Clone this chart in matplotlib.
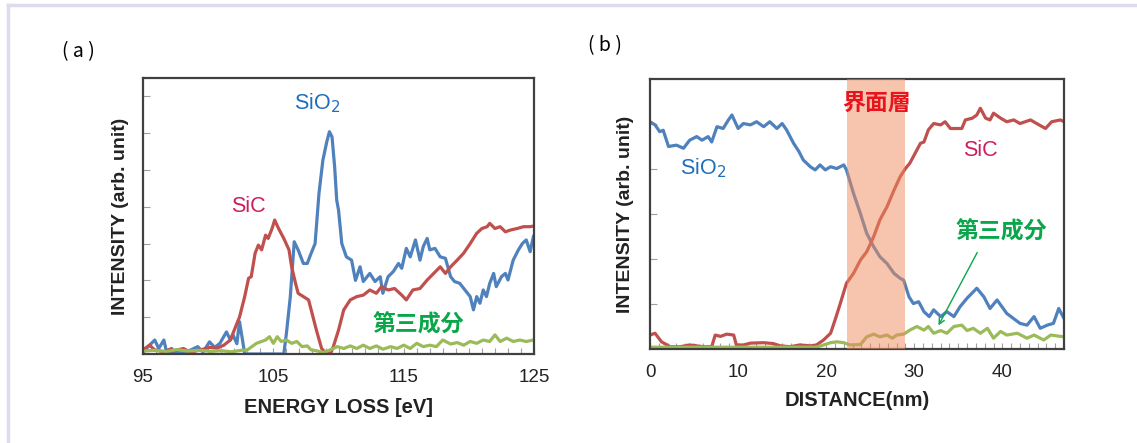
# EELS spectra (a) and line profile across SiO2/SiC interface (b)

import numpy as np
import matplotlib
matplotlib.use("Agg")
import matplotlib.pyplot as plt
from matplotlib.lines import Line2D

plt.rcParams['font.family'] = ['Liberation Sans', 'Noto Sans CJK JP', 'DejaVu Sans']

# ---- panel (a): energy loss spectra ----
a_sic_x = [95.0, 95.15, 95.5, 95.9, 96.6, 97.2, 97.3, 98.1, 98.6, 99.4, 100.1, 100.7, 101.2, 101.7,
           102.2, 102.4, 102.8, 103.1, 103.3, 103.6, 103.85, 104.1, 104.4, 104.6, 104.9, 105.1,
           105.4, 105.8, 106.2, 106.4, 106.7, 106.9, 107.3, 107.7, 107.9, 108.3, 108.7, 109.1,
           109.4, 109.6, 110.0, 110.4, 110.9, 111.4, 111.9, 112.4, 112.9, 113.3, 113.8, 114.3,
           114.85, 115.2, 115.7, 116.25, 116.8, 117.3, 117.8, 118.2, 118.6, 119.1, 119.6, 120.1,
           120.6, 121.0, 121.4, 121.6, 122.0, 122.4, 122.8, 123.2, 123.7, 124.2, 124.7, 125.0]
a_sic_y = [0.05, 0.15, 0.24, 0.11, 0.06, 0.15, 0.08, 0.15, 0.05, 0.11, 0.18, 0.16, 0.24, 0.38,
           0.83, 1.0, 1.56, 2.06, 2.1, 2.74, 2.96, 2.83, 3.23, 3.14, 3.41, 3.64,
           3.41, 3.14, 2.83, 2.37, 1.92, 1.65, 1.56, 1.47, 1.2, 0.65, 0.15, 0.0,
           0.02, 0.2, 0.65, 1.2, 1.47, 1.56, 1.6, 1.74, 1.65, 1.83, 1.74, 1.78,
           1.6, 1.47, 1.74, 1.78, 2.01, 2.19, 2.37, 2.19, 2.37, 2.55, 2.74, 3.0,
           3.28, 3.41, 3.46, 3.55, 3.41, 3.46, 3.32, 3.37, 3.41, 3.46, 3.46, 3.48]

a_sio2_x = [95.0, 95.15, 95.5, 95.9, 96.2, 96.6, 96.8, 97.5, 98.3, 99.2, 99.6, 100.1, 100.5, 100.9,
            101.4, 101.7, 101.9, 102.2, 102.4, 102.6, 102.8, 103.2, 104.5, 105.8, 106.0, 106.3,
            106.6, 106.9, 107.3, 107.6, 107.9, 108.2, 108.5, 108.8, 109.1, 109.3, 109.5, 109.7,
            109.86, 110.0, 110.25, 110.6, 111.0, 111.3, 111.65, 111.9, 112.4, 112.8, 113.2, 113.4,
            113.8, 114.2, 114.6, 114.85, 115.2, 115.5, 115.9, 116.25, 116.5, 116.8, 117.0, 117.4,
            117.8, 118.2, 118.6, 118.9, 119.3, 119.7, 120.1, 120.35, 120.6, 120.85, 121.1, 121.35,
            121.6, 121.9, 122.1, 122.5, 122.8, 123.0, 123.4, 123.8, 124.1, 124.4, 124.7, 124.95]
a_sio2_y = [0.05, 0.11, 0.24, 0.38, 0.15, 0.38, 0.06, 0.04, 0.05, 0.2, 0.05, 0.33, 0.18, 0.29,
            0.6, 0.38, 0.52, 0.28, 0.88, 0.45, 0.0, 0.0, 0.0, 0.0, 0.56, 1.56,
            3.05, 2.83, 2.46, 2.46, 2.74, 3.0, 4.37, 5.27, 5.77, 6.04, 5.9, 5.09,
            4.18, 3.91, 3.0, 2.64, 2.55, 2.0, 2.37, 1.97, 2.19, 1.97, 2.1, 1.65,
            2.1, 2.24, 2.46, 2.33, 2.87, 2.64, 3.1, 2.55, 2.92, 3.14, 2.83, 2.87,
            2.64, 2.6, 2.1, 1.97, 1.92, 1.74, 1.56, 1.2, 1.56, 1.38, 1.74, 1.56,
            1.92, 2.19, 1.83, 2.1, 2.19, 2.01, 2.55, 2.83, 3.0, 3.1, 2.78, 3.19]

a_third_x = [95.0, 95.8, 96.8, 97.6, 98.4, 99.4, 100.2, 101.0, 101.8, 102.5, 103.0, 103.7, 104.4,
             104.7, 105.0, 105.3, 105.6, 106.0, 106.4, 106.8, 107.2, 107.6, 107.9, 108.3, 108.8,
             109.35, 109.9, 110.4, 110.9, 111.4, 111.9, 112.4, 112.9, 113.4, 114.0, 114.5, 115.0,
             115.5, 116.0, 116.5, 117.0, 117.5, 118.0, 118.6, 119.1, 119.6, 120.1, 120.6, 121.1,
             121.6, 122.0, 122.4, 122.9, 123.4, 123.9, 124.4, 124.95]
a_third_y = [0.08, 0.1, 0.07, 0.12, 0.08, 0.1, 0.07, 0.09, 0.06, 0.1, 0.11, 0.29, 0.38,
             0.47, 0.29, 0.47, 0.34, 0.38, 0.29, 0.34, 0.2, 0.22, 0.11, 0.09, 0.04,
             0.11, 0.2, 0.15, 0.22, 0.15, 0.24, 0.15, 0.22, 0.13, 0.2, 0.15, 0.24,
             0.15, 0.29, 0.2, 0.24, 0.2, 0.38, 0.27, 0.31, 0.24, 0.34, 0.29, 0.38,
             0.34, 0.52, 0.34, 0.43, 0.34, 0.38, 0.34, 0.38]

# ---- panel (b): profile vs. distance ----
b_sio2_x = [0.0, 0.57, 1.1, 1.5, 2.1, 3.0, 3.8, 4.5, 5.3, 5.9, 6.6, 7.0, 7.6, 8.3, 8.9, 9.3, 10.0,
            10.6, 11.4, 12.1, 12.9, 13.6, 14.4, 15.0, 15.5, 16.3, 16.9, 17.4, 18.2, 18.75, 19.3,
            19.9, 20.5, 21.2, 22.0, 22.3, 23.1, 23.9, 24.6, 25.4, 26.1, 26.9, 27.7, 28.4, 28.8,
            29.4, 29.9, 30.5, 31.1, 31.7, 32.2, 33.0, 33.7, 34.5, 35.2, 36.0, 37.1, 37.9, 38.6,
            39.4, 40.5, 42.0, 42.8, 43.6, 44.3, 45.1, 45.8, 46.4, 47.0]
b_sio2_y = [5.05, 4.98, 4.83, 4.86, 4.5, 4.53, 4.46, 4.64, 4.72, 4.64, 4.72, 4.6, 4.94, 4.9, 5.09,
            5.2, 4.9, 5.01, 4.98, 5.05, 4.94, 5.05, 4.9, 5.01, 4.87, 4.57, 4.39, 4.2, 4.05, 3.98,
            4.09, 3.98, 4.05, 4.01, 4.09, 3.98, 3.46, 3.0, 2.57, 2.27, 2.05, 1.9, 1.68, 1.57, 1.53,
            1.16, 1.01, 1.05, 0.83, 0.72, 0.87, 0.72, 0.83, 0.72, 0.94, 1.13, 1.35, 1.16, 0.9,
            1.09, 0.79, 0.57, 0.53, 0.72, 0.46, 0.53, 0.57, 0.9, 0.68]

b_sic_x = [0.0, 0.57, 1.3, 2.3, 3.4, 4.5, 6.1, 7.0, 7.4, 8.0, 8.7, 9.5, 9.8, 10.6, 11.4, 12.9,
           14.0, 14.8, 15.9, 17.0, 18.2, 18.9, 19.7, 20.5, 21.0, 21.6, 22.3, 23.1, 23.9, 24.6,
           25.4, 26.1, 26.9, 27.7, 28.4, 29.0, 29.5, 30.1, 30.7, 31.1, 31.6, 32.2, 33.0, 33.5,
           34.1, 34.9, 35.4, 35.8, 36.6, 37.1, 37.5, 38.1, 38.6, 39.0, 39.8, 40.5, 41.3, 42.0,
           43.2, 43.9, 44.9, 45.6, 46.6, 47.0]
b_sic_y = [0.31, 0.35, 0.16, 0.05, 0.05, 0.09, 0.05, 0.05, 0.31, 0.28, 0.33, 0.31, 0.09, 0.09,
           0.13, 0.14, 0.12, 0.07, 0.05, 0.09, 0.07, 0.09, 0.2, 0.35, 0.64, 1.01, 1.46, 1.68,
           1.98, 2.16, 2.5, 2.87, 3.16, 3.53, 3.83, 4.01, 4.13, 4.35, 4.57, 4.6, 4.87, 5.01,
           4.98, 5.05, 4.9, 4.9, 4.9, 5.09, 5.13, 5.2, 5.35, 5.13, 5.09, 5.24, 5.13, 5.05, 5.09,
           5.01, 5.09, 5.01, 4.9, 5.05, 5.09, 5.05]

b_third_x = [0.0, 5.0, 10.0, 15.0, 18.9, 19.7, 20.5, 21.2, 22.0, 22.7, 23.9, 24.6, 25.4, 26.1,
             26.9, 27.5, 28.0, 28.8, 29.5, 30.3, 31.1, 31.6, 32.2, 33.0, 33.7, 34.5, 35.4, 36.0,
             36.7, 37.5, 38.3, 39.0, 39.8, 40.5, 41.7, 42.8, 43.6, 44.7, 45.5, 47.0]
b_third_y = [0.04, 0.04, 0.04, 0.04, 0.04, 0.09, 0.14, 0.16, 0.14, 0.09, 0.1, 0.27, 0.33, 0.27,
             0.31, 0.24, 0.31, 0.33, 0.42, 0.5, 0.42, 0.5, 0.35, 0.41, 0.35, 0.5, 0.53, 0.41,
             0.46, 0.35, 0.46, 0.24, 0.39, 0.31, 0.35, 0.24, 0.31, 0.2, 0.31, 0.27]

band = (22.4, 29.0)  # interface layer

BLUE, RED, GREEN = '#4F81BD', '#C0504D', '#9BBB59'
LBL_BLUE, LBL_RED, LBL_GREEN = '#1E6EBE', '#CC1E5E', '#0AA64A'
CJK = ['Noto Sans CJK JP']

fig = plt.figure(figsize=(11.37, 4.43), dpi=100)
ax1 = fig.add_axes([0.1258, 0.2009, 0.3439, 0.6230])
ax2 = fig.add_axes([0.5717, 0.2122, 0.3641, 0.6095])

lw = 2.3
ax1.plot(a_sio2_x, a_sio2_y, color=BLUE, lw=lw)
ax1.plot(a_sic_x, a_sic_y, color=RED, lw=lw)
ax1.plot(a_third_x, a_third_y, color=GREEN, lw=lw)

ax2.plot(b_sio2_x, b_sio2_y, color=BLUE, lw=lw)
ax2.plot(b_sic_x, b_sic_y, color=RED, lw=lw)
ax2.plot(b_third_x, b_third_y, color=GREEN, lw=lw)
ax2.axvspan(band[0], band[1], color='#F08A5D', alpha=0.5, lw=0, zorder=3)

ax1.set_xlim(95, 125)
ax1.set_ylim(0, 7.5)
ax1.set_xticks([95, 105, 115, 125])
ax1.set_xticks(np.arange(95, 126, 1), minor=True)
ax1.set_yticks(np.arange(1, 8))

ax2.set_xlim(0, 47)
ax2.set_ylim(0, 6)
ax2.set_xticks([0, 10, 20, 30, 40])
ax2.set_xticks(np.arange(0, 48, 1), minor=True)
ax2.set_yticks(np.arange(1, 6))

for ax in (ax1, ax2):
    ax.set_yticklabels([])
    ax.tick_params(axis='both', which='both', direction='in', color='#A0A0A0', width=0.8)
    ax.tick_params(axis='x', which='major', length=4, pad=11, labelsize=13.5, labelcolor='#222222')
    ax.tick_params(axis='x', which='minor', length=4)
    ax.tick_params(axis='y', which='major', length=5)
    for s in ax.spines.values():
        s.set_color('#404040')
        s.set_linewidth(1.6)
    ax.set_ylabel('INTENSITY (arb. unit)', fontsize=14, fontweight='bold', color='#222222')

ax1.yaxis.set_label_coords(-0.037, 0.5)
ax2.yaxis.set_label_coords(-0.038, 0.5)

ax1.set_xlabel('ENERGY LOSS [eV]', fontsize=14.5, fontweight='bold', color='#222222')
ax1.xaxis.set_label_coords(0.5, -0.16)
ax2.set_xlabel('DISTANCE(nm)', fontsize=14.5, fontweight='bold', color='#222222')
ax2.xaxis.set_label_coords(0.5, -0.155)

# series labels
ax1.text(108.35, 6.82, 'SiO$_2$', color=LBL_BLUE, fontsize=15.5, ha='center', va='center')
ax1.text(103.06, 4.0, 'SiC', color=LBL_RED, fontsize=15.5, ha='center', va='center')
ax1.text(116.1, 0.79, '第三成分', color=LBL_GREEN, fontsize=16.5, fontweight='bold',
         family=CJK, ha='center', va='center')

ax2.text(6.0, 4.02, 'SiO$_2$', color=LBL_BLUE, fontsize=15.5, ha='center', va='center')
ax2.text(37.5, 4.42, 'SiC', color=LBL_RED, fontsize=15.5, ha='center', va='center')
ax2.text(25.7, 5.47, '界面層', color='#E8141E', fontsize=16.5, fontweight='bold',
         family=CJK, ha='center', va='center', zorder=5)
ax2.text(39.9, 2.6, '第三成分', color=LBL_GREEN, fontsize=16.5, fontweight='bold',
         family=CJK, ha='center', va='center')
ax2.annotate('', xy=(32.6, 0.47), xytext=(37.3, 2.2),
             arrowprops=dict(arrowstyle='->', color='#0AA64A', lw=1.0), zorder=6)

fig.text(0.0686, 0.883, '( a )', fontsize=14, family=CJK, ha='center', va='center')
fig.text(0.532, 0.898, '( b )', fontsize=14, family=CJK, ha='center', va='center')

# light frame on the left and top edge
fig.add_artist(Line2D([8 / 1137, 8 / 1137], [0, 1 - 5 / 443], transform=fig.transFigure,
                      color='#DCDCEE', lw=2.5))
fig.add_artist(Line2D([8 / 1137, 1], [1 - 5 / 443, 1 - 5 / 443], transform=fig.transFigure,
                      color='#DCDCEE', lw=2.5))

fig.savefig('out.png', dpi=100)
